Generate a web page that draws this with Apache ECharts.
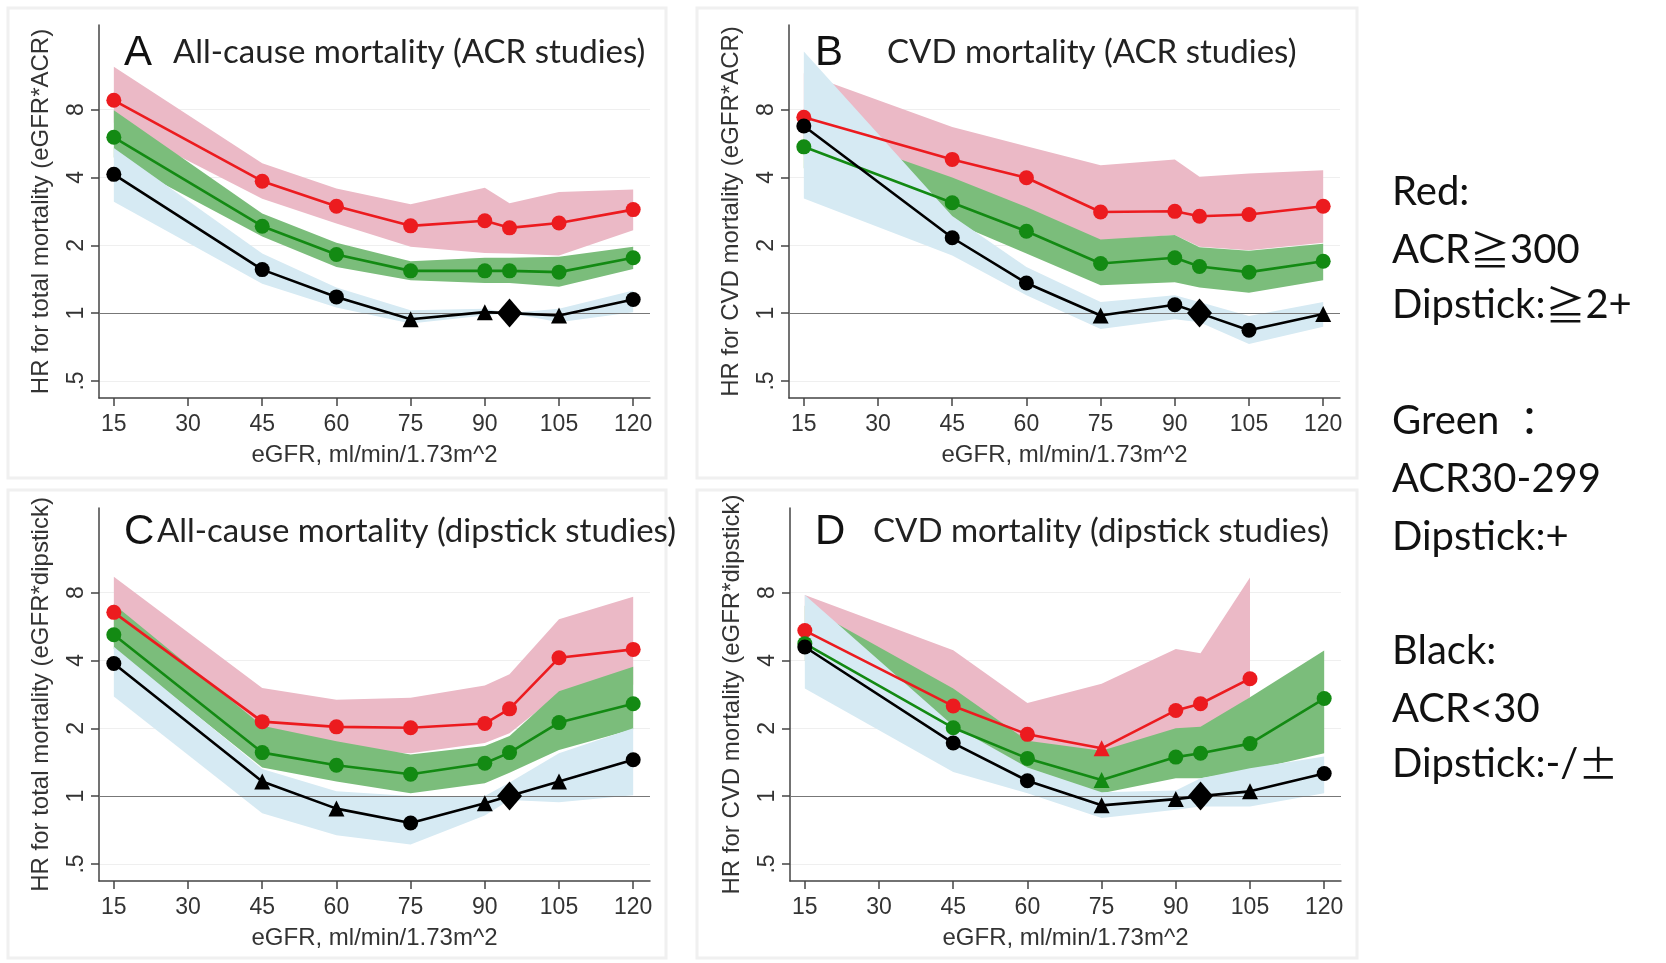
<!DOCTYPE html>
<html>
<head>
<meta charset="utf-8">
<script src="https://cdn.jsdelivr.net/npm/echarts@6.0.0/dist/echarts.min.js"></script>
<style>
  html, body { margin: 0; padding: 0; background: #fff; }
  #chart { width: 1666px; height: 963px; }
</style>
</head>
<body>
<div id="chart"></div>
<script>
// eGFR points (ml/min/1.73m^2), 95 is the reference point
const egfr = [15, 45, 60, 75, 90, 95, 105, 120];
const xTicks = [15, 30, 45, 60, 75, 90, 105, 120];
const yTicks = [0.5, 1, 2, 4, 8];

// A: all-cause mortality, ACR studies
const aRed = [8.8, 3.85, 2.98, 2.44, 2.57, 2.39, 2.51, 2.88];
const aRedLo = [7.0, 3.22, 2.5, 1.97, 1.85, 1.84, 1.8, 2.33];
const aRedHi = [12.4, 4.62, 3.57, 3.04, 3.6, 3.07, 3.45, 3.54];
const aGreen = [6.03, 2.43, 1.82, 1.54, 1.54, 1.54, 1.52, 1.76];
const aGreenLo = [4.9, 2.19, 1.6, 1.4, 1.36, 1.36, 1.31, 1.57];
const aGreenHi = [7.96, 2.77, 2.05, 1.7, 1.76, 1.76, 1.78, 1.97];
const aBlack = [4.13, 1.56, 1.18, 0.94, 1.01, 1.0, 0.976, 1.15];
const aBlackLo = [3.12, 1.35, 1.06, 0.9, 0.976, 1.0, 0.91, 1.01];
const aBlackHi = [5.4, 1.84, 1.3, 1.03, 1.045, 1.0, 1.045, 1.26];
const aBlackMarker = ['circle', 'circle', 'circle', 'triangle', 'triangle', 'diamond', 'triangle', 'circle'];

// B: CVD mortality, ACR studies
const bRed = [7.4, 4.81, 3.99, 2.81, 2.83, 2.69, 2.74, 2.98];
const bRedLo = [5.0, 3.4, 2.8, 2.1, 2.22, 1.97, 1.9, 2.05];
const bRedHi = [11.6, 6.7, 5.5, 4.53, 4.81, 4.03, 4.17, 4.31];
const bGreen = [5.47, 3.09, 2.31, 1.66, 1.76, 1.61, 1.52, 1.7];
const bGreenLo = [4.4, 2.54, 1.84, 1.33, 1.37, 1.3, 1.23, 1.4];
const bGreenHi = [6.8, 4.0, 2.96, 2.12, 2.22, 1.96, 1.89, 2.03];
const bBlack = [6.77, 2.16, 1.36, 0.976, 1.09, 1.0, 0.84, 0.99];
const bBlackLo = [3.23, 1.8, 1.2, 0.85, 0.94, 0.91, 0.73, 0.87];
const bBlackHi = [14.5, 2.7, 1.6, 1.12, 1.2, 1.12, 0.97, 1.12];
const bBlackMarker = ['circle', 'circle', 'circle', 'triangle', 'circle', 'diamond', 'circle', 'triangle'];

// C: all-cause mortality, dipstick studies
const cRed = [6.54, 2.14, 2.03, 2.01, 2.1, 2.44, 4.11, 4.48];
const cRedLo = [5.3, 1.75, 1.6, 1.55, 1.72, 1.9, 2.85, 3.12];
const cRedHi = [9.4, 3.02, 2.68, 2.73, 3.1, 3.47, 6.1, 7.68];
const cGreen = [5.2, 1.56, 1.37, 1.25, 1.4, 1.56, 2.12, 2.57];
const cGreenLo = [4.5, 1.34, 1.16, 1.03, 1.14, 1.27, 1.6, 1.98];
const cGreenHi = [7.1, 2.05, 1.75, 1.53, 1.67, 1.85, 2.92, 3.75];
const cBlack = [3.88, 1.16, 0.88, 0.76, 0.93, 1.0, 1.16, 1.45];
const cBlackLo = [2.77, 0.84, 0.67, 0.61, 0.82, 0.96, 0.94, 1.01];
const cBlackHi = [4.6, 1.32, 1.05, 1.0, 1.0, 1.15, 1.55, 2.0];
const cBlackMarker = ['circle', 'triangle', 'triangle', 'circle', 'triangle', 'diamond', 'triangle', 'circle'];

// D: CVD mortality, dipstick studies
const dRed = [5.43, 2.51, 1.88, 1.63, 2.4, 2.57, 3.32, null];
const dRedLo = [4.6, 1.9, 1.65, 1.5, 1.9, 1.95, 2.75, null];
const dRedHi = [7.8, 4.44, 2.59, 3.15, 4.5, 4.31, 9.33, null];
const dGreen = [4.75, 2.01, 1.47, 1.18, 1.49, 1.55, 1.71, 2.71];
const dGreenLo = [4.0, 1.67, 1.26, 1.03, 1.2, 1.2, 1.3, 1.55];
const dGreenHi = [7.0, 3.0, 1.76, 1.59, 2.0, 2.03, 2.75, 4.43];
const dBlack = [4.59, 1.72, 1.17, 0.91, 0.97, 1.0, 1.05, 1.26];
const dBlackLo = [3.0, 1.28, 1.03, 0.8, 0.87, 0.9, 0.9, 1.03];
const dBlackHi = [7.8, 2.05, 1.34, 1.04, 1.06, 1.2, 1.33, 1.5];
const dBlackMarker = ['circle', 'circle', 'circle', 'triangle', 'triangle', 'diamond', 'triangle', 'circle'];
const dRedMarker = ['circle', 'circle', 'circle', 'triangle', 'circle', 'circle', 'circle', 'circle'];
const dGreenMarker = ['circle', 'circle', 'circle', 'triangle', 'circle', 'circle', 'circle', 'circle'];

const panels = [
  { letter: 'A', title: 'All-cause mortality (ACR studies)', yName: 'HR for total mortality (eGFR*ACR)',
    red: [aRed, aRedLo, aRedHi], green: [aGreen, aGreenLo, aGreenHi], black: [aBlack, aBlackLo, aBlackHi],
    blackMarker: aBlackMarker },
  { letter: 'B', title: 'CVD mortality (ACR studies)', yName: 'HR for CVD mortality (eGFR*ACR)',
    red: [bRed, bRedLo, bRedHi], green: [bGreen, bGreenLo, bGreenHi], black: [bBlack, bBlackLo, bBlackHi],
    blackMarker: bBlackMarker },
  { letter: 'C', title: 'All-cause mortality (dipstick studies)', yName: 'HR for total mortality (eGFR*dipstick)',
    red: [cRed, cRedLo, cRedHi], green: [cGreen, cGreenLo, cGreenHi], black: [cBlack, cBlackLo, cBlackHi],
    blackMarker: cBlackMarker },
  { letter: 'D', title: 'CVD mortality (dipstick studies)', yName: 'HR for CVD mortality (eGFR*dipstick)',
    red: [dRed, dRedLo, dRedHi], green: [dGreen, dGreenLo, dGreenHi], black: [dBlack, dBlackLo, dBlackHi],
    blackMarker: dBlackMarker, redMarker: dRedMarker, greenMarker: dGreenMarker }
];

// layout of the 2x2 panels (pixels)
const gridPos = [
  { left: 99, top: 25 }, { left: 789, top: 25 },
  { left: 99, top: 508 }, { left: 790, top: 508 }
];
const titlePos = [
  { lx: 124, tx: 173, y: 54 }, { lx: 815, tx: 887, y: 54 },
  { lx: 124, tx: 157, y: 533 }, { lx: 815, tx: 873, y: 533 }
];

const RED = '#ec1b1f', GREEN = '#138a13', BLACK = '#000';
const PINK_BAND = '#ebb9c6', GREEN_BAND = '#7bbd7b', BLUE_BAND = '#d6eaf3';
const AXIS_FONT = '"Liberation Sans", Arial, sans-serif';
const TEXT_FONT = 'Lato, "Noto Sans", sans-serif';
const CJK_FONT = '"Noto Sans CJK JP", sans-serif';

const grids = [], xAxes = [], yAxes = [], series = [], graphics = [];

// confidence band as one polygon: upper edge left->right, lower edge right->left
function bandSeries(idx, lo, hi, color, withRefLine) {
  const s = {
    type: 'custom', xAxisIndex: idx, yAxisIndex: idx, z: 1, silent: true, clip: true,
    data: egfr.map((x, i) => [x, lo[i] == null ? NaN : lo[i], hi[i] == null ? NaN : hi[i]]),
    encode: { x: 0, y: [1, 2] },
    renderItem: function (params, api) {
      if (params.dataIndexInside !== 0) return;
      const n = params.dataInsideLength;
      const top = [], bottom = [];
      for (let k = 0; k < n; k++) {
        const x = api.value(0, k), l = api.value(1, k), h = api.value(2, k);
        if (isNaN(l) || isNaN(h)) continue;
        top.push(api.coord([x, h]));
        bottom.unshift(api.coord([x, l]));
      }
      return {
        type: 'polygon',
        shape: { points: top.concat(bottom) },
        style: { fill: color, stroke: null }
      };
    }
  };
  if (withRefLine) {
    s.markLine = {
      silent: true, symbol: 'none', label: { show: false }, z: 3,
      lineStyle: { color: '#777', width: 1.2, type: 'solid' },
      data: [{ yAxis: 1 }]
    };
  }
  series.push(s);
}

function lineSeries(idx, vals, color, markers) {
  series.push({
    type: 'line', xAxisIndex: idx, yAxisIndex: idx, z: 5, silent: true,
    lineStyle: { color: color, width: 2.6 },
    itemStyle: { color: color },
    data: egfr.map((x, i) => {
      const m = markers ? markers[i] : 'circle';
      return {
        value: [x, vals[i] == null ? '-' : vals[i]],
        symbol: m,
        symbolSize: m === 'diamond' ? [25, 29] : (m === 'triangle' ? 16 : 15)
      };
    })
  });
}

panels.forEach((p, idx) => {
  const g = gridPos[idx];
  grids.push({ left: g.left, top: g.top, width: 551, height: 373 });
  xAxes.push({
    type: 'value', gridIndex: idx, min: 12, max: 123.4,
    name: 'eGFR, ml/min/1.73m^2', nameLocation: 'middle', nameGap: 45,
    nameTextStyle: { fontFamily: AXIS_FONT, fontSize: 24, color: '#333' },
    axisLine: { lineStyle: { color: '#444', width: 1.5 } },
    axisTick: { customValues: xTicks, length: 8, lineStyle: { color: '#444', width: 1.5 } },
    axisLabel: { customValues: xTicks, margin: 15, fontFamily: AXIS_FONT, fontSize: 23, color: '#333' },
    splitLine: { show: false }
  });
  yAxes.push({
    type: 'log', logBase: 2, gridIndex: idx, min: 0.42, max: 19,
    name: p.yName, nameLocation: 'middle', nameRotate: 90, nameGap: 46,
    nameTextStyle: { fontFamily: AXIS_FONT, fontSize: 24, color: '#333' },
    axisLine: { show: true, lineStyle: { color: '#444', width: 1.5 } },
    axisTick: { show: true, customValues: yTicks, length: 8, lineStyle: { color: '#444', width: 1.5 } },
    axisLabel: { customValues: yTicks, rotate: 90, margin: 11, fontFamily: AXIS_FONT, fontSize: 23, color: '#333',
      formatter: v => (v === 0.5 ? '.5' : String(v)) },
    splitLine: { show: true, lineStyle: { color: '#efefef', width: 1.2 } }
  });

  bandSeries(idx, p.red[1], p.red[2], PINK_BAND, false);
  bandSeries(idx, p.green[1], p.green[2], GREEN_BAND, false);
  bandSeries(idx, p.black[1], p.black[2], BLUE_BAND, true);

  lineSeries(idx, p.red[0], RED, p.redMarker);
  lineSeries(idx, p.green[0], GREEN, p.greenMarker);
  lineSeries(idx, p.black[0], BLACK, p.blackMarker);

  const t = titlePos[idx];
  graphics.push({ type: 'text', z: 20, left: t.lx, top: t.y - 22,
    style: { text: p.letter, font: '42px ' + AXIS_FONT, fill: '#111' } });
  graphics.push({ type: 'text', z: 20, left: t.tx, top: t.y - 18,
    style: { text: p.title, font: '33px ' + TEXT_FONT, fill: '#222' } });
});

// faint panel frames
[[8, 8, 658, 470], [697, 8, 660, 470], [8, 490, 658, 468], [697, 490, 660, 468]].forEach(r => {
  graphics.push({ type: 'rect', z: -1, shape: { x: r[0], y: r[1], width: r[2], height: r[3] },
    style: { fill: 'none', stroke: '#f0f0f0', lineWidth: 3 } });
});

// colour key on the right
const keyLines = [
  ['Red:', 193], ['ACR{c|≧}300', 251], ['Dipstick:{c|≧}2+', 306],
  ['Green {c|：}', 422], ['ACR30-299', 480], ['Dipstick:+', 538],
  ['Black:', 652], ['ACR<30', 710], ['Dipstick:-/{c|±}', 765]
];
keyLines.forEach(k => {
  graphics.push({ type: 'text', z: 20, left: 1392, top: k[1] - 21,
    style: { text: k[0], font: '40px ' + TEXT_FONT, fill: '#111',
      rich: { c: { font: '40px ' + CJK_FONT, fill: '#111' } } } });
});

const chart = echarts.init(document.getElementById('chart'), null, { renderer: 'canvas' });
chart.setOption({
  animation: false,
  backgroundColor: '#fff',
  grid: grids,
  xAxis: xAxes,
  yAxis: yAxes,
  series: series,
  graphic: graphics
});
</script>
</body>
</html>
